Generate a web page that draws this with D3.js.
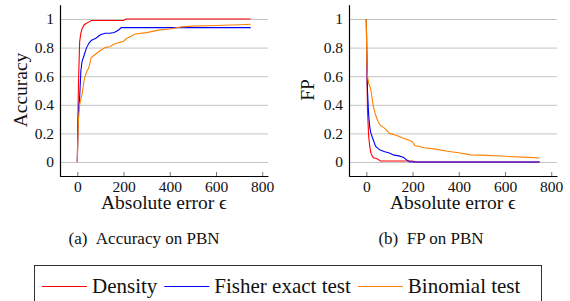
<!DOCTYPE html>
<html>
<head>
<meta charset="utf-8">
<script src="https://cdn.jsdelivr.net/npm/d3@7"></script>
<style>
  body { margin: 0; background: #fff; }
  svg { display: block; }
  svg text { font-family: "Liberation Serif", "DejaVu Serif", serif; }
</style>
</head>
<body>
<svg id="chart" width="570" height="301"></svg>
<script>
// absolute error grid (x values shared by all curves)
const eps = [0, 2, 5, 10, 15, 20, 30, 40, 50, 60, 80, 100, 120, 140, 160, 180, 190, 200, 210, 250, 300, 350, 400, 450, 500, 600, 700, 750];

const accDensity  = [0, 0.25, 0.55, 0.84, 0.9, 0.93, 0.96, 0.97, 0.98, 0.99, 0.99, 0.99, 0.99, 0.99, 0.99, 0.99, 0.99, 0.99, 1, 1, 1, 1, 1, 1, 1, 1, 1, 1];
const accFisher   = [0, 0.2, 0.35, 0.45, 0.63, 0.7, 0.75, 0.8, 0.83, 0.85, 0.865, 0.89, 0.9, 0.9, 0.905, 0.925, 0.94, 0.94, 0.94, 0.94, 0.94, 0.94, 0.94, 0.94, 0.94, 0.94, 0.94, 0.94];
const accBinomial = [0, 0.15, 0.3, 0.4, 0.44, 0.47, 0.58, 0.63, 0.66, 0.73, 0.755, 0.78, 0.8, 0.806, 0.825, 0.835, 0.84, 0.845, 0.86, 0.895, 0.905, 0.922, 0.93, 0.945, 0.95, 0.955, 0.96, 0.963];

const fpDensity  = [1, 0.7, 0.36, 0.18, 0.107, 0.06, 0.03, 0.026, 0.02, 0.007, 0.007, 0.007, 0.007, 0.007, 0.007, 0.007, 0.007, 0.007, 0, 0, 0, 0, 0, 0, 0, 0, 0, 0];
const fpFisher   = [1, 0.75, 0.5, 0.33, 0.24, 0.2, 0.154, 0.11, 0.095, 0.084, 0.072, 0.063, 0.048, 0.043, 0.033, 0.008, 0, 0, 0, 0, 0, 0, 0, 0, 0, 0, 0, 0];
const fpBinomial = [1, 0.7, 0.6, 0.55, 0.53, 0.5, 0.39, 0.33, 0.285, 0.258, 0.235, 0.2, 0.19, 0.18, 0.166, 0.155, 0.148, 0.14, 0.115, 0.1, 0.09, 0.075, 0.065, 0.05, 0.048, 0.04, 0.032, 0.028];

const seriesNames = ["Density", "Fisher exact test", "Binomial test"];
const seriesColors = ["#ff0000", "#0000ff", "#ff8000"];

const xTicks = [0, 200, 400, 600, 800];
const yTicks = [0, 0.2, 0.4, 0.6, 0.8, 1];
const yTickLabels = ["0", "0.2", "0.4", "0.6", "0.8", "1"];

const svg = d3.select("#chart");

function drawPanel(left, yLabel, yLabelX, series, caption) {
  let x = d3.scaleLinear()
      .domain([-75, 825])
      .range([left, left + 208]);

  let y = d3.scaleLinear()
      .domain([-0.1, 1.1])
      .range([176.3, 4.7]);

  let g = svg.append("g");

  // horizontal grid
  g.append("g")
      .attr("transform", "translate(" + left + ",0)")
      .call(d3.axisLeft(y).tickValues(yTicks).tickSize(-208).tickFormat(""))
      .call(a => a.select(".domain").remove())
      .call(a => a.selectAll("line").attr("stroke", "#c4c4c4").attr("stroke-width", 1));

  // lines
  let line = d3.line()
      .x((d, i) => x(eps[i]))
      .y(d => y(d));

  series.forEach((s, i) => {
    g.append("path")
        .attr("fill", "none")
        .attr("stroke", seriesColors[i])
        .attr("stroke-width", 1.1)
        .attr("d", line(s));
  });

  // x axis
  let xAxis = g.append("g")
      .attr("transform", "translate(0,176)")
      .call(d3.axisBottom(x).tickValues(xTicks).tickSizeInner(-4).tickSizeOuter(0))
      .attr("font-family", null)
      .attr("font-size", 15.5);
  xAxis.select(".domain").attr("stroke", "#000").attr("stroke-width", 1.2);
  xAxis.selectAll(".tick line").attr("stroke", "#777");
  xAxis.selectAll("text")
      .attr("dy", null)
      .attr("y", 15.5)
      .attr("fill", "#111");

  // y axis
  let yAxis = g.append("g")
      .attr("transform", "translate(" + left + ",0)")
      .call(d3.axisLeft(y).tickValues(yTicks).tickSizeInner(0).tickSizeOuter(0).tickPadding(6)
        .tickFormat((d, i) => yTickLabels[i]))
      .attr("font-family", null)
      .attr("font-size", 15.5);
  yAxis.select(".domain").attr("stroke", "#000").attr("stroke-width", 1.2);
  yAxis.selectAll("text").attr("fill", "#111");

  // axis labels
  g.append("text")
      .attr("x", left + 104)
      .attr("y", 208.5)
      .attr("text-anchor", "middle")
      .attr("font-size", 19.5)
      .attr("fill", "#111")
      .text("Absolute error \u03F5");

  g.append("text")
      .attr("transform", "translate(" + yLabelX + ",90) rotate(-90)")
      .attr("text-anchor", "middle")
      .attr("font-size", 19.5)
      .attr("fill", "#111")
      .text(yLabel);

  // caption
  g.append("text")
      .attr("x", caption.x)
      .attr("y", 244)
      .attr("text-anchor", "middle")
      .attr("font-size", 17)
      .attr("fill", "#111")
      .text(caption.text);
}

drawPanel(60, "Accuracy", 27, [accDensity, accFisher, accBinomial], {x: 144, text: "(a)\u2002Accuracy on PBN"});
drawPanel(349, "FP", 314, [fpDensity, fpFisher, fpBinomial], {x: 431, text: "(b)\u2002FP on PBN"});

// legend
let legend = svg.append("g");
legend.append("rect")
    .attr("x", 34.5)
    .attr("y", 265.5)
    .attr("width", 507)
    .attr("height", 60)
    .attr("fill", "none")
    .attr("stroke", "#333")
    .attr("stroke-width", 1);

let lx = 42;
seriesNames.forEach((name, i) => {
  legend.append("line")
      .attr("x1", lx).attr("x2", lx + 45)
      .attr("y1", 286.5).attr("y2", 286.5)
      .attr("stroke", seriesColors[i])
      .attr("stroke-width", 1.1);
  let t = legend.append("text")
      .attr("x", lx + 50)
      .attr("y", 293)
      .attr("font-size", 21)
      .attr("fill", "#111")
      .text(name);
  lx += 50 + t.node().getComputedTextLength() + 7;
});
</script>
</body>
</html>
